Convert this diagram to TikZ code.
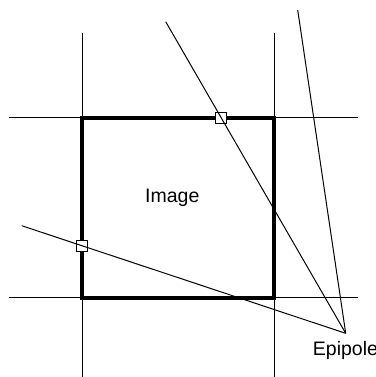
\documentclass[tikz,border=0pt]{standalone}
\usepackage{fontspec}
\setmainfont{Liberation Sans}
\usetikzlibrary{positioning,calc}

\begin{document}
\begin{tikzpicture}[x=1pt,y=-1pt]
  \tikzset{thin line/.style={line width=1pt},
    frame/.style={line width=4.2pt},
    corr/.style={draw,fill=white,line width=0.9pt,minimum size=11pt,inner sep=0pt},
    label/.style={font=\fontsize{19.5}{22}\selectfont,inner sep=0pt}}
  \useasboundingbox (0,0) rectangle (375,377);
  % grid lines of the image borders
  \coordinate (tl) at (82,117.7);
  \coordinate (br) at (274,297.7);
  \draw[thin line] (9,117.7) -- (358,117.7);
  \draw[thin line] (9,297.7) -- (358,297.7);
  \draw[thin line] (82,33.5) -- (82,377);
  \draw[thin line] (274,33.5) -- (274,377);
  \draw[frame] (tl) rectangle (br);
  \node[label] (img) at (172.3,197.7) {Image};
  % matched points
  \node[corr] (m1) at (221.3,118) {};
  \node[corr] (m2) at (82.3,245.7) {};
  % epipolar lines
  \coordinate (e) at (345.7,333.3);
  \coordinate (a) at (165.7,21.7);
  \coordinate (b) at (297.7,10);
  \coordinate (c) at (21.7,225.7);
  \draw[thin line] (a) -- (e);
  \draw[thin line] (b) -- (e);
  \draw[thin line] (c) -- (e);
  \node[label,anchor=base] (epi) at (345.5,355) {Epipole};
\end{tikzpicture}
\end{document}
